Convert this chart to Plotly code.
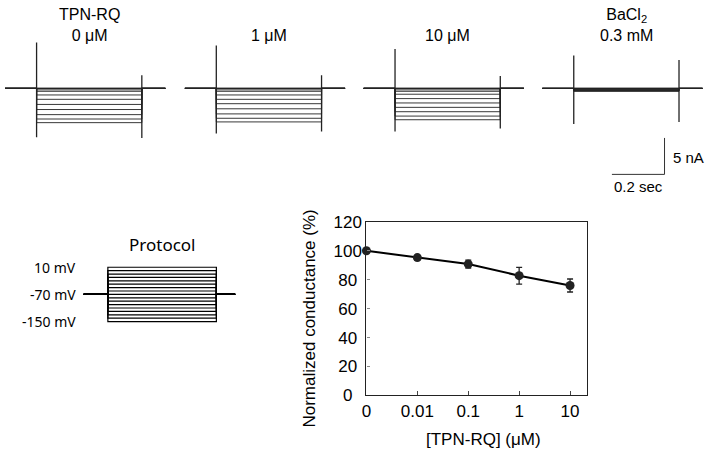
import plotly.graph_objects as go

W, H = 708, 462

# ---- data ----
conc_labels = ["0", "0.01", "0.1", "1", "10"]
conductance = [100, 95.3, 90.8, 82.8, 76.0]
conductance_err = [0.8, 1.5, 2.8, 5.8, 4.5]

panel_titles = ["TPN-RQ<br>0 \u03bcM", "1 \u03bcM", "10 \u03bcM", "BaCl<sub>2</sub><br>0.3 mM"]
# steady current of each sweep during the step (nA)
sweep_levels = [
    [0.0, -0.1, -0.2, -0.4, -0.9, -1.5, -2.2, -2.9, -3.6, -4.2, -4.7],
    [0.0, -0.1, -0.2, -0.4, -0.9, -1.5, -2.1, -2.8, -3.5, -4.1, -4.6],
    [0.0, -0.1, -0.2, -0.4, -0.8, -1.4, -2.0, -2.6, -3.2, -3.8, -4.3],
    [0.0, -0.1, -0.15, -0.2, -0.25, -0.3, -0.35, -0.4],
]
# capacitive transients (nA): onset top/bottom, offset top/bottom
spike_on_top = [6.3, 5.9, 5.4, 4.5]
spike_on_bot = [-6.7, -6.2, -5.9, -4.9]
spike_off_top = [1.8, 1.8, 1.7, 3.9]
spike_off_bot = [-6.8, -5.9, -5.5, -4.6]
step_start, step_end = 0.0, 0.4          # s
rec_start, rec_end = -0.12, 0.49         # s

protocol_mV = [10, 0, -10, -20, -30, -40, -50, -60, -70, -80, -90, -100, -110, -120, -130, -140, -150]
holding_mV = -70
prot_start, prot_end = -0.09, 0.47
protocol_labels = ["10 mV", "-70 mV", "-150 mV"]

scale_nA, scale_s = 5, 0.2

FONT = "Liberation Sans"


def px(x):
    return x / W


def py(y):
    return 1 - y / H


fig = go.Figure()

# ---- main dose response chart ----
fig.add_trace(go.Scatter(
    x=conc_labels, y=conductance, mode="lines+markers",
    line=dict(color="black", width=2),
    marker=dict(color="#222", size=9),
    error_y=dict(type="data", array=conductance_err, color="#222", thickness=1.3, width=3),
    cliponaxis=False, showlegend=False, xaxis="x", yaxis="y"))

# ---- current traces ----
for i in range(4):
    xs, ys = [], []
    for lv in sweep_levels[i]:
        xs += [rec_start, step_start, step_start, step_end, step_end, rec_end, None]
        ys += [0, 0, lv, lv, 0, 0, None]
    ax = "x%d" % (i + 2)
    fig.add_trace(go.Scatter(x=xs, y=ys, mode="lines", line=dict(color="#222", width=0.9),
                             showlegend=False, xaxis=ax, yaxis="y2", hoverinfo="skip"))
    fig.add_trace(go.Scatter(
        x=[rec_start, rec_end, None, step_start, step_start, None, step_end, step_end],
        y=[0, 0, None, spike_on_bot[i], spike_on_top[i], None, spike_off_bot[i], spike_off_top[i]],
        mode="lines", line=dict(color="#222", width=1.3),
        showlegend=False, xaxis=ax, yaxis="y2", hoverinfo="skip"))
    # titles share a common baseline for their last line
    fig.add_annotation(text=panel_titles[i], xref=ax, yref="paper",
                       x=(step_start + step_end) / 2, y=py(39), showarrow=False,
                       font=dict(family=FONT, size=16, color="black"),
                       xanchor="center", yanchor="bottom")

# scale bar in the last panel
sb_x0 = 0.145
sb_y0 = -11.8
fig.add_trace(go.Scatter(x=[sb_x0, sb_x0 + scale_s, sb_x0 + scale_s],
                         y=[sb_y0, sb_y0, sb_y0 + scale_nA], mode="lines",
                         line=dict(color="#333", width=1), showlegend=False,
                         xaxis="x5", yaxis="y2", hoverinfo="skip"))
fig.add_annotation(text="%d nA" % scale_nA, xref="x5", yref="y2",
                   x=sb_x0 + scale_s, y=sb_y0 + scale_nA * 0.45, xanchor="left", yanchor="middle",
                   xshift=6, showarrow=False, font=dict(family=FONT, size=15, color="black"))
fig.add_annotation(text="%.1f sec" % scale_s, xref="x5", yref="y2",
                   x=sb_x0 + scale_s / 2, y=sb_y0, xanchor="center", yanchor="top", yshift=-2,
                   showarrow=False, font=dict(family=FONT, size=15, color="black"))

# ---- protocol ----
xs, ys = [], []
for v in protocol_mV:
    xs += [prot_start, step_start, step_start, step_end, step_end, prot_end, None]
    ys += [holding_mV, holding_mV, v, v, holding_mV, holding_mV, None]
fig.add_trace(go.Scatter(x=xs, y=ys, mode="lines", line=dict(color="black", width=1.2),
                         showlegend=False, xaxis="x6", yaxis="y6", hoverinfo="skip"))
fig.add_annotation(text="Protocol", xref="x6", yref="paper", x=(step_start + step_end) / 2,
                   y=py(246), xanchor="center", yanchor="middle", showarrow=False,
                   font=dict(family="Noto Sans", size=17, color="black"))
for lab, v in zip(protocol_labels, [protocol_mV[0], holding_mV, protocol_mV[-1]]):
    fig.add_annotation(text=lab, xref="paper", yref="y6", x=px(74), y=v,
                       xanchor="right", yanchor="middle",
                       showarrow=False, font=dict(family="Noto Sans", size=14, color="black"))

# ---- axis titles of main chart ----
fig.add_annotation(text="Normalized conductance (%)", xref="paper", yref="paper",
                   x=px(307), y=py(323), xanchor="center", yanchor="middle",
                   textangle=-90, showarrow=False,
                   font=dict(family=FONT, size=17, color="black"))
fig.add_annotation(text="[TPN-RQ] (\u03bcM)", xref="paper", yref="paper",
                   x=px(482), y=py(449), xanchor="center", yanchor="middle", showarrow=False,
                   font=dict(family=FONT, size=17, color="black"))

hidden = dict(visible=False, showgrid=False, zeroline=False, fixedrange=True)
trace_y_range = [8 - (195 - 22) / 7.6, 8]
panel_left = [0, 181, 361, 541]
panel_w = (rec_end - rec_start) * 265

layout = dict(
    width=W, height=H, margin=dict(l=0, r=0, t=0, b=0),
    paper_bgcolor="white", plot_bgcolor="white",
    font=dict(family=FONT, color="black"),
    xaxis=dict(type="category", range=[0, 4.33], domain=[px(364), px(586)],
               showline=True, mirror=True, linecolor="#222", linewidth=1.2,
               ticks="inside", ticklen=4, tickcolor="#444", showgrid=False,
               tickfont=dict(family=FONT, size=17), anchor="y"),
    yaxis=dict(range=[0, 120], domain=[py(403), py(222)],
               tickvals=[0, 20, 40, 60, 80, 100, 120],
               ticktext=["0\u00a0\u00a0", "20\u00a0", "40\u00a0", "60\u00a0", "80\u00a0", "100", "120"],
               showline=True, mirror=True, linecolor="#222", linewidth=1.2,
               ticks="inside", ticklen=3, tickcolor="#888", showgrid=False, zeroline=False,
               tickfont=dict(family=FONT, size=17), anchor="x"),
    yaxis2=dict(range=trace_y_range, domain=[py(195), py(22)], anchor="x2", **hidden),
    xaxis6=dict(range=[prot_start, prot_end], domain=[px(79), px(232)], anchor="y6", **hidden),
    yaxis6=dict(range=[-150 - 9 / 0.354, 10 + 7.3 / 0.354], domain=[py(335), py(262)],
                anchor="x6", **hidden),
)
for i, left in enumerate(panel_left):
    layout["xaxis%d" % (i + 2)] = dict(range=[rec_start, rec_end], domain=[px(left), px(left + panel_w)],
                                       anchor="y2", **hidden)

fig.update_layout(**layout)
fig.write_html("out.html", config={"displayModeBar": False},
               post_script="document.body.style.margin='0';")
